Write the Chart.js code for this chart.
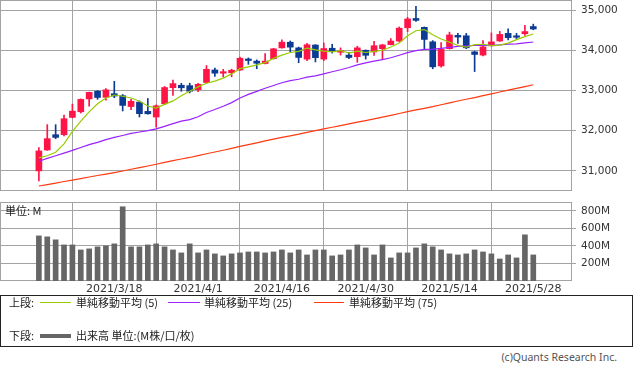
<!DOCTYPE html>
<html><head><meta charset="utf-8">
<script src="https://cdn.jsdelivr.net/npm/chart.js@4"></script>
<style>
body{margin:0;background:#fff;width:633px;height:373px;overflow:hidden;position:relative;font-family:"Noto Sans CJK JP","Noto Sans",sans-serif;}
canvas{position:absolute;left:0;}
#c1{top:0;}
#c2{top:197px;}
.t{position:absolute;font-size:11px;color:#222;white-space:nowrap;line-height:11px;}
.ln{position:absolute;height:1px;}
#legend{position:absolute;left:0;top:295px;width:631px;height:50px;border:1px solid #222;}
</style>
</head><body>
<canvas id="c1" width="633" height="191"></canvas>
<canvas id="c2" width="633" height="98"></canvas>
<div class="t" style="left:5px;top:205px;">単位: M</div>
<div id="legend"></div>
<div class="t" style="left:9px;top:297px;">上段:</div>
<div class="ln" style="left:40px;top:302px;width:31px;background:#99cc00;"></div>
<div class="t" style="left:76px;top:297px;">単純移動平均 (5)</div>
<div class="ln" style="left:168px;top:302px;width:32px;background:#9922ff;"></div>
<div class="t" style="left:204px;top:297px;">単純移動平均 (25)</div>
<div class="ln" style="left:314px;top:302px;width:30px;background:#ff3a10;"></div>
<div class="t" style="left:349px;top:297px;">単純移動平均 (75)</div>
<div class="t" style="left:9px;top:330px;">下段:</div>
<div class="ln" style="left:40px;top:334px;width:31px;height:4px;background:#666;"></div>
<div class="t" style="left:76px;top:330px;">出来高 単位:(M株/口/枚)</div>
<div class="t" style="right:16px;top:352px;font-size:10.5px;color:#555;font-family:'Noto Sans',sans-serif;">(c)Quants Research Inc.</div>
<script>
const dates = ["3/5","3/8","3/9","3/10","3/11","3/12","3/15","3/16","3/17","3/18",
"3/19","3/22","3/23","3/24","3/25","3/26","3/29","3/30","3/31","4/1",
"4/5","4/6","4/7","4/8","4/9","4/12","4/13","4/14","4/15","4/16",
"4/19","4/20","4/21","4/22","4/23","4/26","4/27","4/28","4/29","4/30",
"5/3","5/4","5/5","5/6","5/7","5/10","5/11","5/12","5/13","5/14",
"5/17","5/18","5/19","5/20","5/21","5/24","5/25","5/26","5/27","5/28"];
const opens = [31000,31520,31900,31900,32330,32470,32790,32980,32830,32920,
32870,32600,32710,32480,32340,32670,33070,33130,33120,33020,
33200,33510,33430,33440,33510,33780,33730,33670,33790,34060,
34200,34060,33780,34130,33780,34050,33950,33880,33840,34000,
33960,34040,34140,34230,34560,34790,34570,34210,33610,34040,
34370,34360,33960,33880,34110,34230,34420,34350,34410,34590];
const highs = [31580,32150,32150,32390,32660,32790,32960,33000,33050,33227,
32900,32780,32740,32800,32640,33100,33260,33180,33180,33180,
33620,33560,33525,33530,33830,33810,33760,33920,34050,34260,
34230,34080,34170,34140,34180,34150,34060,33950,34100,34010,
34220,34150,34290,34580,34820,35091,34580,34240,34190,34450,
34420,34420,33980,34240,34430,34470,34530,34420,34620,34650];
const lows = [30750,31510,31800,31870,32320,32440,32610,32780,32760,32820,
32490,32520,32340,32410,32090,32650,32880,32980,32940,32970,
33180,33350,33335,33340,33500,33650,33540,33660,33780,34050,
33960,33690,33740,33710,33740,33930,33880,33790,33700,33780,
33870,33770,34130,34210,34460,34720,34040,33540,33580,34030,
34170,34040,33470,33860,34100,34220,34260,34270,34370,34510];
const closes = [31496,31802,31833,32297,32486,32779,32953,32826,33015,32862,
32628,32731,32423,32420,32619,33073,33171,33067,32982,33153,
33527,33430,33446,33504,33801,33745,33677,33731,34036,34201,
34078,33821,34137,33816,34043,33982,33985,33820,34060,33875,
34113,34133,34230,34549,34778,34743,34269,33588,34021,34382,
34328,34061,33896,34084,34208,34394,34312,34323,34465,34529];
const ma5 = [31324,31377,31465,31671,31983,32239,32469,32668,32812,32887,
32857,32813,32732,32613,32564,32653,32741,32870,32982,33089,
33180,33232,33308,33412,33542,33585,33635,33692,33798,33878,
33945,33973,34055,34011,33979,33960,33993,33929,33978,33944,
33971,34000,34082,34180,34361,34486,34514,34385,34280,34201,
34118,34076,34138,34150,34115,34129,34179,34264,34340,34405];
const ma25 = [31240,31313,31377,31442,31512,31581,31653,31711,31777,31834,
31881,31932,31968,32001,32046,32109,32175,32236,32277,32347,
32451,32526,32609,32698,32813,32903,32978,33054,33124,33192,
33244,33279,33331,33363,33411,33465,33515,33571,33636,33687,
33728,33767,33813,33876,33941,33989,34023,34029,34049,34073,
34096,34111,34118,34120,34120,34133,34152,34160,34186,34205];
const ma75 = [30625,30660,30698,30737,30772,30810,30849,30885,30920,30958,
30998,31041,31080,31122,31166,31210,31255,31296,31334,31378,
31426,31470,31514,31562,31610,31652,31698,31745,31792,31833,
31873,31914,31960,32003,32045,32086,32125,32168,32212,32250,
32292,32336,32380,32428,32474,32516,32556,32598,32644,32692,
32738,32781,32824,32870,32916,32962,33008,33050,33096,33142];
const volumes = [514,503,469,411,411,354,366,389,400,423,
846,389,389,411,423,389,354,320,423,320,
354,309,286,309,320,331,331,320,331,354,
320,354,297,354,354,286,297,354,411,377,
297,411,263,320,320,377,423,389,354,309,
297,309,354,331,309,251,297,263,526,297];
const dateTickIdx = [9,19,29,39,49,59];
const priceTicks = [31000,32000,33000,34000,35000];
const volTicks = [200,400,600,800];

const UP = '#ff1447', DOWN = '#0c3b94', GRID = '#a3a3a3';
const XMIN = -4.64, XMAX = 63.62;
const candleColor = closes.map((c,i)=> c >= opens[i] ? UP : DOWN);

const frame = {id:'frame', beforeDatasetsDraw(chart){
  const {ctx, chartArea:a} = chart;
  ctx.save(); ctx.strokeStyle = GRID; ctx.lineWidth = 1;
  ctx.strokeRect(Math.round(a.left)+0.5, Math.round(a.top)+0.5, Math.round(a.width)-1, Math.round(a.height)-1);
  ctx.restore();
}};
const noPad = s => { s.paddingTop = 0; s.paddingBottom = 0; s.paddingLeft = 0; s.paddingRight = 0; };
const tickFont = {family:'DejaVu Sans', size:10.5};

new Chart(document.getElementById('c1'), {
  type:'bar',
  data:{datasets:[
    {type:'line', data:ma5.map((v,i)=>({x:i,y:v})), borderColor:'#99cc00', borderWidth:1.2, pointRadius:0, order:0},
    {type:'line', data:ma25.map((v,i)=>({x:i,y:v})), borderColor:'#9922ff', borderWidth:1.2, pointRadius:0, order:0},
    {type:'line', data:ma75.map((v,i)=>({x:i,y:v})), borderColor:'#ff3a10', borderWidth:1.2, pointRadius:0, order:0},
    {data:opens.map((o,i)=>({x:i,y:[o,closes[i]]})), backgroundColor:candleColor, barThickness:6, minBarLength:1.5, grouped:false, order:1},
    {data:lows.map((l,i)=>({x:i,y:[l,highs[i]]})), backgroundColor:candleColor, barThickness:1, grouped:false, order:2}
  ]},
  options:{
    responsive:false, animation:false, devicePixelRatio:1,
    layout:{padding:0},
    plugins:{legend:{display:false}, tooltip:{enabled:false}},
    scales:{
      x:{type:'linear', min:XMIN, max:XMAX, offset:false,
        afterBuildTicks(s){ s.ticks = dateTickIdx.map(v=>({value:v})); },
        afterFit(s){ s.height = 0; noPad(s); },
        ticks:{display:false}, grid:{color:GRID, drawTicks:false}, border:{display:false}},
      y:{position:'right', min:30500, max:35250,
        afterBuildTicks(s){ s.ticks = priceTicks.map(v=>({value:v})); },
        afterFit(s){ s.width = 61; noPad(s); },
        ticks:{font:tickFont, color:'#333', padding:5, callback:v=>v.toLocaleString('en-US')},
        grid:{color:GRID, tickLength:4}, border:{display:false}}
    }
  },
  plugins:[frame]
});

new Chart(document.getElementById('c2'), {
  type:'bar',
  data:{datasets:[
    {data:volumes.map((v,i)=>({x:i,y:v})), backgroundColor:'#666666', barThickness:5}
  ]},
  options:{
    responsive:false, animation:false, devicePixelRatio:1,
    layout:{padding:{top:5}},
    plugins:{legend:{display:false}, tooltip:{enabled:false}},
    scales:{
      x:{type:'linear', min:XMIN, max:XMAX, offset:false,
        afterBuildTicks(s){ s.ticks = dateTickIdx.map(v=>({value:v})); },
        afterFit(s){ s.height = 14; noPad(s); },
        ticks:{font:{family:'DejaVu Sans', size:11}, color:'#333', padding:2, autoSkip:false, maxRotation:0,
          callback:v=>'2021/'+dates[v]},
        grid:{color:GRID, drawTicks:false}, border:{display:false}},
      y:{position:'right', min:0, max:900,
        afterBuildTicks(s){ s.ticks = volTicks.map(v=>({value:v})); },
        afterFit(s){ s.width = 61; noPad(s); },
        ticks:{font:tickFont, color:'#333', padding:5, callback:v=>v+'M'},
        grid:{color:GRID, tickLength:4}, border:{display:false}}
    }
  },
  plugins:[frame]
});
</script>
</body></html>
